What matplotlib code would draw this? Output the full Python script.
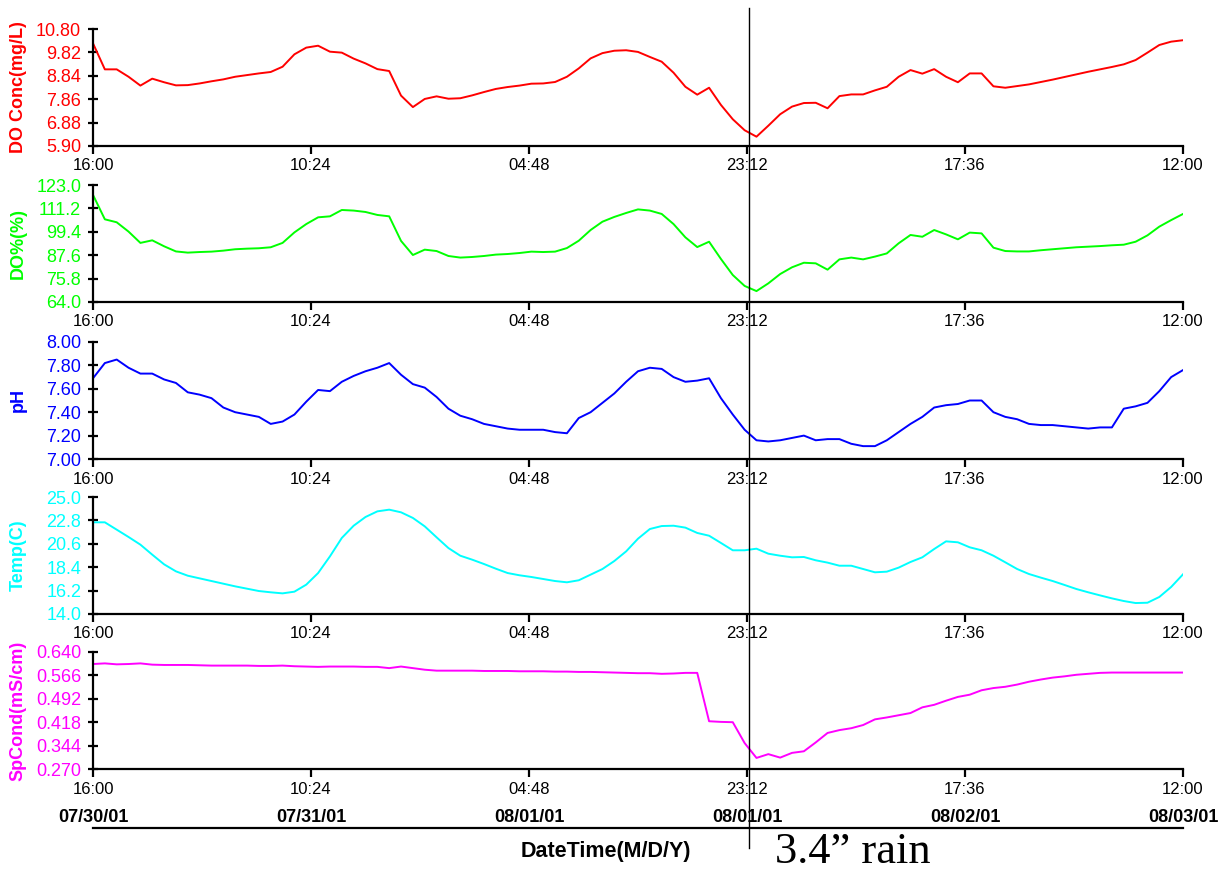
import numpy as np
import matplotlib
matplotlib.use("Agg")
import matplotlib.pyplot as plt
from matplotlib.lines import Line2D
from matplotlib.transforms import blended_transform_factory

plt.rcParams['font.family'] = ['Liberation Sans', 'DejaVu Sans']

# hours since 07/30/01 16:00, one reading per hour
hours = np.arange(93)

do_conc = [10.20, 9.11, 9.11, 8.80, 8.43, 8.72, 8.57, 8.44, 8.45, 8.52,
           8.61, 8.69, 8.80, 8.87, 8.94, 9.00, 9.22, 9.74, 10.02, 10.10,
           9.85, 9.81, 9.56, 9.36, 9.12, 9.04, 8.01, 7.53, 7.87, 7.98,
           7.88, 7.90, 8.02, 8.16, 8.29, 8.37, 8.43, 8.51, 8.52, 8.58,
           8.80, 9.15, 9.57, 9.79, 9.89, 9.91, 9.84, 9.63, 9.43, 8.97,
           8.38, 8.05, 8.34, 7.62, 7.02, 6.56, 6.29, 6.75, 7.23, 7.55,
           7.70, 7.71, 7.48, 7.99, 8.06, 8.06, 8.23, 8.38, 8.80, 9.08,
           8.93, 9.12, 8.80, 8.57, 8.94, 8.94, 8.40, 8.34, 8.41, 8.48,
           8.58, 8.68, 8.79, 8.90, 9.01, 9.11, 9.21, 9.32, 9.50, 9.81,
           10.13, 10.27, 10.33]

do_pct = [118.0, 105.7, 104.2, 99.5, 93.8, 95.1, 92.1, 89.5, 88.9, 89.2,
          89.4, 89.9, 90.6, 90.9, 91.1, 91.6, 93.8, 99.1, 103.3, 106.7,
          107.2, 110.4, 110.1, 109.4, 107.9, 107.2, 94.8, 87.7, 90.4, 89.7,
          87.2, 86.4, 86.7, 87.2, 87.9, 88.2, 88.7, 89.4, 89.2, 89.4,
          91.2, 94.9, 100.3, 104.5, 106.9, 108.9, 110.7, 110.1, 108.4, 103.3,
          96.6, 91.7, 94.4, 85.7, 77.6, 72.1, 69.5, 73.4, 78.1, 81.5,
          83.8, 83.5, 80.3, 85.5, 86.4, 85.5, 86.9, 88.5, 93.6, 97.8,
          96.9, 100.3, 98.1, 95.6, 99.0, 98.6, 91.4, 89.7, 89.5, 89.5,
          90.1, 90.6, 91.1, 91.6, 91.9, 92.2, 92.6, 92.9, 94.4, 97.6,
          102.0, 105.3, 108.4]

ph = [7.69, 7.82, 7.85, 7.78, 7.73, 7.73, 7.68, 7.65, 7.57, 7.55,
      7.52, 7.44, 7.40, 7.38, 7.36, 7.30, 7.32, 7.38, 7.49, 7.59,
      7.58, 7.66, 7.71, 7.75, 7.78, 7.82, 7.72, 7.64, 7.61, 7.53,
      7.43, 7.37, 7.34, 7.30, 7.28, 7.26, 7.25, 7.25, 7.25, 7.23,
      7.22, 7.35, 7.40, 7.48, 7.56, 7.66, 7.75, 7.78, 7.77, 7.70,
      7.66, 7.67, 7.69, 7.52, 7.38, 7.25, 7.16, 7.15, 7.16, 7.18,
      7.20, 7.16, 7.17, 7.17, 7.13, 7.11, 7.11, 7.16, 7.23, 7.30,
      7.36, 7.44, 7.46, 7.47, 7.50, 7.50, 7.40, 7.36, 7.34, 7.30,
      7.29, 7.29, 7.28, 7.27, 7.26, 7.27, 7.27, 7.43, 7.45, 7.48,
      7.58, 7.70, 7.76]

temp = [22.62, 22.62, 21.93, 21.24, 20.52, 19.58, 18.67, 18.01, 17.60, 17.35,
        17.10, 16.85, 16.60, 16.38, 16.16, 16.04, 15.94, 16.10, 16.76, 17.85,
        19.42, 21.15, 22.30, 23.12, 23.65, 23.81, 23.56, 23.03, 22.24, 21.21,
        20.20, 19.48, 19.11, 18.70, 18.26, 17.85, 17.64, 17.48, 17.29, 17.10,
        16.98, 17.17, 17.70, 18.23, 18.98, 19.89, 21.08, 21.99, 22.27, 22.30,
        22.12, 21.62, 21.36, 20.68, 19.99, 19.99, 20.14, 19.67, 19.48, 19.33,
        19.36, 19.05, 18.83, 18.54, 18.54, 18.23, 17.92, 17.98, 18.36, 18.89,
        19.33, 20.11, 20.83, 20.74, 20.27, 19.99, 19.48, 18.86, 18.23, 17.76,
        17.42, 17.10, 16.73, 16.35, 16.04, 15.75, 15.47, 15.22, 15.03, 15.06,
        15.60, 16.54, 17.73]

spcond = [0.602, 0.604, 0.601, 0.602, 0.604, 0.600, 0.599, 0.599, 0.599, 0.598,
          0.597, 0.597, 0.597, 0.597, 0.596, 0.596, 0.597, 0.595, 0.594, 0.593,
          0.594, 0.594, 0.594, 0.593, 0.593, 0.589, 0.594, 0.589, 0.584, 0.581,
          0.581, 0.581, 0.581, 0.580, 0.580, 0.580, 0.579, 0.579, 0.579, 0.578,
          0.578, 0.577, 0.577, 0.576, 0.575, 0.574, 0.573, 0.573, 0.571, 0.572,
          0.574, 0.574, 0.421, 0.419, 0.418, 0.352, 0.305, 0.317, 0.306, 0.321,
          0.326, 0.354, 0.384, 0.393, 0.399, 0.409, 0.427, 0.433, 0.440, 0.447,
          0.465, 0.473, 0.486, 0.498, 0.505, 0.519, 0.526, 0.530, 0.537, 0.546,
          0.553, 0.559, 0.563, 0.568, 0.571, 0.574, 0.575, 0.575, 0.575, 0.575,
          0.575, 0.575, 0.575]

tick_hours = [0, 18.4, 36.8, 55.2, 73.6, 92]
tick_labels = ["16:00", "10:24", "04:48", "23:12", "17:36", "12:00"]
date_labels = ["07/30/01", "07/31/01", "08/01/01", "08/01/01", "08/02/01", "08/03/01"]
rain_hour = 55.4

panels = [
    (do_conc, "DO Conc(mg/L)", "#ff0000", 5.90, 10.80, "%.2f"),
    (do_pct, "DO%(%)", "#00ff00", 64.0, 123.0, "%.1f"),
    (ph, "pH", "#0000ff", 7.00, 8.00, "%.2f"),
    (temp, "Temp(C)", "#00ffff", 14.0, 25.0, "%.1f"),
    (spcond, "SpCond(mS/cm)", "#ff00ff", 0.270, 0.640, "%.3f"),
]

W, H = 1225, 873
fig = plt.figure(figsize=(W / 100, H / 100), dpi=100)
tops = [29, 185, 342, 497, 652]
axes = []
for (vals, label, color, lo, hi, fmt), top in zip(panels, tops):
    ax = fig.add_axes([93 / W, 1 - (top + 117) / H, 1090 / W, 117 / H])
    ax.plot(hours, vals, color=color, lw=1.4)
    ax.set_xlim(0, 92)
    ax.set_ylim(lo, hi)
    yt = np.linspace(lo, hi, 6)
    ax.set_yticks(yt)
    ax.set_yticklabels([fmt % v for v in yt], color=color, fontsize=13)
    ax.set_xticks(tick_hours)
    ax.set_xticklabels(tick_labels, fontsize=12)
    ax.set_ylabel(label, color=color, fontsize=13, fontweight="bold")
    ax.yaxis.set_label_coords(-0.061, 0.5)
    for s in ["top", "right"]:
        ax.spines[s].set_visible(False)
    for s in ["left", "bottom"]:
        ax.spines[s].set_linewidth(1.6)
    ax.tick_params(axis="y", direction="inout", length=7, width=1.6, pad=5)
    ax.tick_params(axis="x", direction="out", length=6, width=1.6, pad=3)
    ax.patch.set_alpha(0)
    axes.append(ax)

bottom_ax = axes[-1]
tr = blended_transform_factory(bottom_ax.transData, fig.transFigure)
tra = blended_transform_factory(bottom_ax.transAxes, fig.transFigure)

for h, d in zip(tick_hours, date_labels):
    fig.text(h, 1 - 817 / H, d, transform=tr, ha="center", va="center",
             fontsize=13, fontweight="bold")

fig.add_artist(Line2D([0, 1], [1 - 828 / H] * 2, transform=tra, color="black", lw=1.6))
fig.text(606 / W, 1 - 852 / H, "DateTime(M/D/Y)", ha="center", va="center",
         fontsize=15.5, fontweight="bold")

fig.add_artist(Line2D([rain_hour, rain_hour], [1 - 8 / H, 1 - 848 / H],
                      transform=tr, color="black", lw=1.0))
fig.text(775 / W, 1 - 872 / H, "3.4\u201d rain", ha="left", va="bottom",
         fontsize=32, family=["Liberation Serif", "DejaVu Serif"])

fig.savefig("out.png", dpi=100)
